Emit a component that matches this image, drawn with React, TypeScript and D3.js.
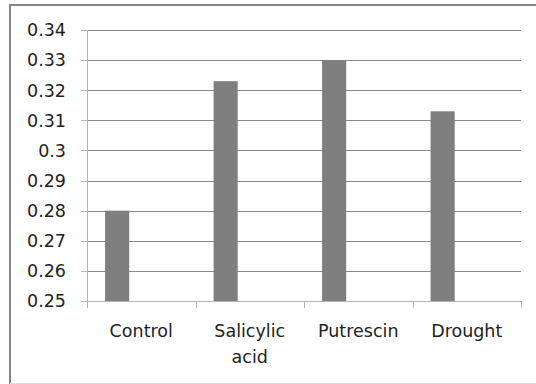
import React from "react";
import * as d3 from "d3";

const categories: string[][] = [["Control"], ["Salicylic", "acid"], ["Putrescin"], ["Drought"]];
const values: number[] = [0.28, 0.323, 0.33, 0.313];
const yTicks: number[] = [0.25, 0.26, 0.27, 0.28, 0.29, 0.3, 0.31, 0.32, 0.33, 0.34];

const W = 536;
const H = 384;
const plot = { left: 87, right: 521, top: 30, bottom: 301 };
const FONT = "'DejaVu Sans', sans-serif";
const FS = 17.5;

export default function App() {
  const keys = categories.map((c) => c.join(" "));
  const x = d3.scaleBand<string>().domain(keys).range([plot.left, plot.right]).padding(0);
  const y = d3.scaleLinear().domain([0.25, 0.34]).range([plot.bottom, plot.top]);

  // each category holds a three-slot cluster with 75% gap on both sides; the first slot is the bar
  const bw = x.bandwidth() / 4.5;
  const barX = (k: string) => (x(k) as number) + bw * 0.75;
  const cx = (k: string) => (x(k) as number) + x.bandwidth() / 2;

  return (
    <svg width={W} height={H} style={{ position: "absolute", left: 0, top: 0, background: "#fff" }}>
      <rect x={0} y={0} width={W} height={H} fill="#fff" />
      {/* chart frame */}
      <line x1={10} y1={5} x2={W} y2={5} stroke="#868686" strokeWidth={2} />
      <line x1={10} y1={4} x2={10} y2={H} stroke="#868686" strokeWidth={2} />
      <line x1={10} y1={383.5} x2={W} y2={383.5} stroke="#dcdcdc" strokeWidth={1} />

      {/* gridlines */}
      {yTicks.slice(1).map((t) => (
        <line key={t} x1={plot.left} x2={plot.right} y1={Math.round(y(t)) + 0.5} y2={Math.round(y(t)) + 0.5} stroke="#8a8a8a" strokeWidth={1} />
      ))}

      {/* bars */}
      {keys.map((k, i) => (
        <rect key={k} x={barX(k)} y={y(values[i])} width={bw} height={y(0.25) - y(values[i])} fill="#7f7f7f" />
      ))}

      {/* y axis */}
      <line x1={plot.left + 0.5} x2={plot.left + 0.5} y1={plot.top} y2={plot.bottom} stroke="#b4b4b4" />
      {yTicks.map((t) => (
        <g key={t}>
          <line x1={plot.left - 6} x2={plot.left} y1={Math.round(y(t)) + 0.5} y2={Math.round(y(t)) + 0.5} stroke="#b4b4b4" />
          <text x={66} y={y(t)} dy="0.36em" textAnchor="end" fontFamily={FONT} fontSize={FS} fill="#222">
            {String(t)}
          </text>
        </g>
      ))}

      {/* x axis */}
      <line x1={plot.left} x2={plot.right} y1={plot.bottom + 0.5} y2={plot.bottom + 0.5} stroke="#b4b4b4" />
      {[...keys.map((k) => x(k) as number), plot.right].map((px, i) => (
        <line key={i} x1={Math.round(px) + 0.5} x2={Math.round(px) + 0.5} y1={plot.bottom} y2={plot.bottom + 7} stroke="#b4b4b4" />
      ))}
      {categories.map((lines, i) => (
        <text key={i} x={cx(keys[i])} y={337} textAnchor="middle" fontFamily={FONT} fontSize={FS} fill="#222">
          {lines.map((ln, j) => (
            <tspan key={j} x={cx(keys[i])} dy={j === 0 ? 0 : 26}>
              {ln}
            </tspan>
          ))}
        </text>
      ))}
    </svg>
  );
}
